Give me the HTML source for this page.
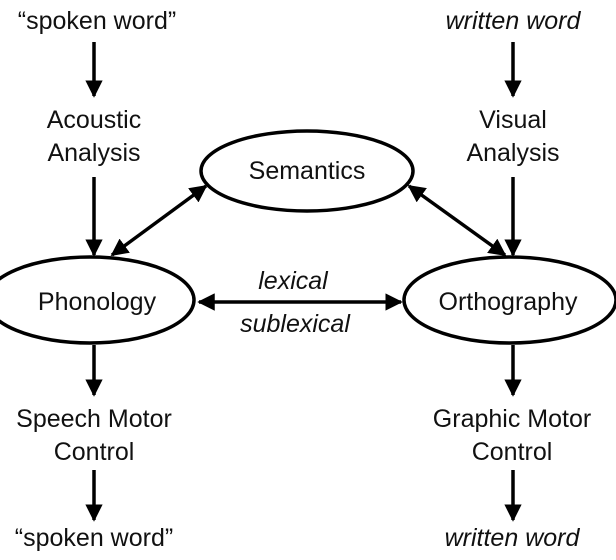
<!DOCTYPE html>
<html><head><meta charset="utf-8"><style>
html,body{margin:0;padding:0;background:#fff;width:616px;height:560px;overflow:hidden}
svg text{font-family:"Liberation Sans",sans-serif;font-size:25px;fill:#111;text-anchor:middle}
.i{font-style:italic}
</style></head><body>
<svg width="616" height="560" viewBox="0 0 616 560">
<defs>
<marker id="a" viewBox="0 0 10 10" refX="9" refY="5" markerWidth="5" markerHeight="5" orient="auto-start-reverse" markerUnits="strokeWidth">
<path d="M0,0 L10,5 L0,10 z" fill="#000"/></marker>
</defs>
<g stroke="#000" stroke-width="3.5" fill="none">
<ellipse cx="307" cy="171" rx="106" ry="40"/>
<ellipse cx="90" cy="300" rx="104" ry="43"/>
<ellipse cx="510" cy="300" rx="106" ry="43"/>
</g>
<g stroke="#000" stroke-width="3.5" fill="none">
<line x1="94" y1="42" x2="94" y2="96" marker-end="url(#a)"/>
<line x1="513" y1="42" x2="513" y2="96" marker-end="url(#a)"/>
<line x1="94" y1="177" x2="94" y2="255" marker-end="url(#a)"/>
<line x1="513" y1="177" x2="513" y2="255" marker-end="url(#a)"/>
<line x1="94" y1="345" x2="94" y2="395" marker-end="url(#a)"/>
<line x1="513" y1="345" x2="513" y2="395" marker-end="url(#a)"/>
<line x1="94" y1="470" x2="94" y2="520" marker-end="url(#a)"/>
<line x1="513" y1="470" x2="513" y2="520" marker-end="url(#a)"/>
<line x1="199" y1="302" x2="401" y2="302" marker-start="url(#a)" marker-end="url(#a)"/>
<line x1="112" y1="255" x2="206" y2="186" marker-start="url(#a)" marker-end="url(#a)"/>
<line x1="409" y1="186" x2="505" y2="255" marker-start="url(#a)" marker-end="url(#a)"/>
</g>
<text x="97" y="29">“spoken word”</text>
<text x="513" y="29" class="i">written word</text>
<text x="94" y="128">Acoustic</text>
<text x="94" y="161">Analysis</text>
<text x="513" y="128">Visual</text>
<text x="513" y="161">Analysis</text>
<text x="307" y="179">Semantics</text>
<text x="97" y="310">Phonology</text>
<text x="508" y="310">Orthography</text>
<text x="293" y="289" class="i">lexical</text>
<text x="295" y="332" class="i">sublexical</text>
<text x="94" y="427">Speech Motor</text>
<text x="94" y="460">Control</text>
<text x="512" y="427">Graphic Motor</text>
<text x="512" y="460">Control</text>
<text x="94" y="546">“spoken word”</text>
<text x="512" y="546" class="i">written word</text>
</svg>
</body></html>
